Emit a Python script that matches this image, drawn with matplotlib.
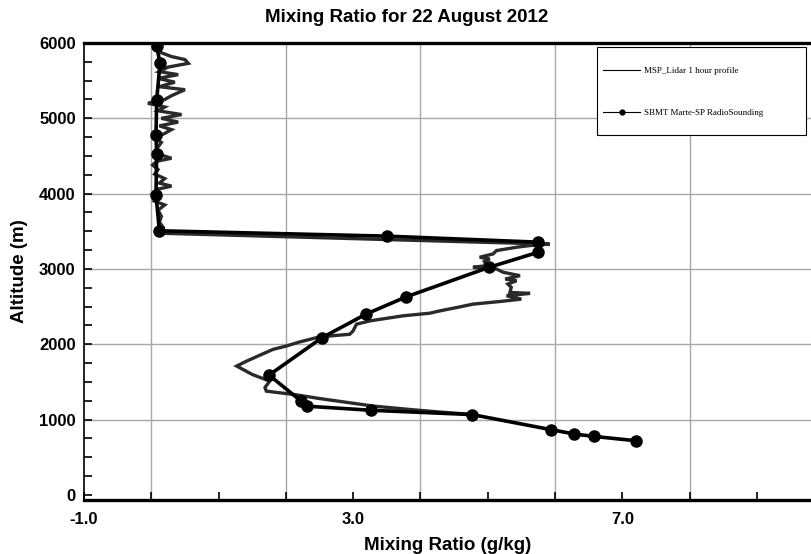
#!/usr/bin/env python
# -*- coding: utf-8 -*-
# Mixing ratio profile: lidar vs radiosounding
import matplotlib
matplotlib.use('Agg')
import matplotlib.pyplot as plt
from matplotlib.lines import Line2D
from matplotlib.patches import Rectangle

# lidar 1 hour profile (altitude m, mixing ratio g/kg)
lidar_alt = [1070, 1100, 1130, 1180, 1230, 1280, 1330, 1378, 1427, 1511, 1600,
             1711, 1778, 1850, 1933, 1978, 2030, 2089, 2111, 2133, 2178, 2267,
             2311, 2378, 2413, 2444, 2490, 2533, 2570, 2600, 2644, 2676, 2689,
             2756, 2800, 2844, 2867, 2911, 2956, 3000, 3022, 3044, 3100, 3133,
             3156, 3200, 3244, 3289, 3311, 3330, 3475,
             3550, 3620, 3700, 3780, 3850, 3900, 3950, 4000, 4060, 4100, 4140,
             4200, 4260, 4320, 4380, 4430, 4470, 4520, 4560, 4620, 4680, 4740,
             4800, 4850, 4900, 4950, 5000, 5050, 5100, 5150, 5200, 5250, 5300,
             5380, 5420, 5480, 5530, 5580, 5620, 5680, 5730, 5780, 5820, 5870,
             5930, 5990]
lidar_mr = [4.75, 4.30, 3.90, 3.30, 2.90, 2.50, 2.15, 1.71, 1.69, 1.76, 1.50,
            1.27, 1.42, 1.60, 1.81, 2.01, 2.20, 2.46, 2.66, 2.95, 3.00, 3.05,
            3.25, 3.74, 4.14, 4.29, 4.55, 4.78, 5.20, 5.50, 5.28, 5.63, 5.33,
            5.35, 5.30, 5.43, 5.26, 5.48, 5.23, 5.13, 4.78, 4.98, 4.95, 5.03,
            4.88, 5.08, 5.13, 5.43, 5.63, 5.92, 0.13,
            0.18, 0.12, 0.15, 0.10, 0.20, 0.05, 0.12, 0.02, 0.10, 0.30, 0.12,
            0.20, 0.05, 0.10, 0.02, 0.08, 0.30, 0.12, 0.05, 0.10, 0.15, 0.05,
            0.20, 0.30, 0.12, 0.40, 0.15, 0.45, 0.10, 0.20, -0.05, 0.20, 0.30,
            0.50, 0.12, 0.35, 0.10, 0.40, 0.12, 0.25, 0.55, 0.50, 0.30, 0.15,
            0.10, 0.05]

# SBMT Marte-SP radiosounding
sonde_alt = [720, 777, 809, 867, 1067, 1124, 1178, 1244, 1591, 2089, 2400,
             2627, 3022, 3222, 3356, 3436, 3507, 3987, 4533, 4773, 5240, 5733,
             5960, 6100]
sonde_mr = [7.20, 6.58, 6.29, 5.94, 4.77, 3.27, 2.32, 2.23, 1.75, 2.54, 3.19,
            3.78, 5.02, 5.75, 5.75, 3.50, 0.12, 0.07, 0.08, 0.07, 0.08, 0.13,
            0.08, 0.10]

xgrid = [0, 2, 4, 6, 8]
xticks = [-1, 3, 7]
xtick_lbl = ['-1.0', '3.0', '7.0']
yticks = [0, 1000, 2000, 3000, 4000, 5000, 6000]
labels = ['MSP_Lidar 1 hour profile', 'SBMT Marte-SP RadioSounding']

plt.rcParams['font.family'] = ['Liberation Sans', 'DejaVu Sans']

fig = plt.figure(figsize=(8.12, 5.54), dpi=100)
ax = fig.add_axes([84/812, 54/554, 728/812, 457/554])

# grid
for g in xgrid:
    ax.axvline(g, color='#a8a8a8', lw=1.0, zorder=1)
for g in yticks[1:-1]:
    ax.axhline(g, color='#a8a8a8', lw=1.0, zorder=1)

ax.plot(lidar_mr, lidar_alt, color='#2a2a2a', lw=2.4, zorder=3,
        solid_joinstyle='miter')
ax.plot(sonde_mr, sonde_alt, color='black', lw=2.6, marker='o', ms=8,
        zorder=4)

ax.set_xticks(xticks)
ax.set_xticklabels(xtick_lbl, fontweight='bold', fontsize=12)
ax.set_xticks(range(-1, 10), minor=True)
ax.set_yticks(yticks)
ax.set_yticklabels([str(v) for v in yticks], fontweight='bold', fontsize=12)
ax.set_yticks(range(0, 6001, 250), minor=True)
ax.set_xlim(-1, 9.82)
ax.set_ylim(-67, 6000)

ax.tick_params(axis='both', which='both', direction='in', width=1.2,
               top=False, right=False)
ax.tick_params(axis='x', which='both', length=6, pad=9)
ax.tick_params(axis='y', which='major', length=6, pad=6)
ax.tick_params(axis='y', which='minor', length=6)

ax.spines['top'].set_linewidth(2.4)
ax.spines['bottom'].set_linewidth(2.4)
ax.spines['left'].set_linewidth(1.2)
ax.spines['right'].set_visible(False)

ax.set_xlabel('Mixing Ratio (g/kg)', fontweight='bold', fontsize=13.5,
              labelpad=7)
ax.set_ylabel('Altitude (m)', fontweight='bold', fontsize=13.5, labelpad=8)
fig.text(407/812, 1 - 18/554, 'Mixing Ratio for 22 August 2012',
         ha='center', va='center', fontweight='bold', fontsize=13.5)

# legend: frame drawn separately, entries via legend
ax.add_patch(Rectangle((0.7047, 0.7987), 0.287, 0.1925,
                       transform=ax.transAxes, facecolor='white',
                       edgecolor='black', lw=0.8, zorder=5))
handles = [Line2D([], [], color='black', lw=0.8),
           Line2D([], [], color='black', lw=0.8, marker='o', ms=3.5)]
leg = ax.legend(handles, labels, loc='upper left',
                bbox_to_anchor=(0.713, 0.9475),
                prop={'family': 'Liberation Serif', 'size': 6.5},
                frameon=False, borderpad=0, labelspacing=3.75,
                handlelength=4.1, handletextpad=0.45, borderaxespad=0)
leg.set_zorder(6)

fig.savefig('out.png', dpi=100)
